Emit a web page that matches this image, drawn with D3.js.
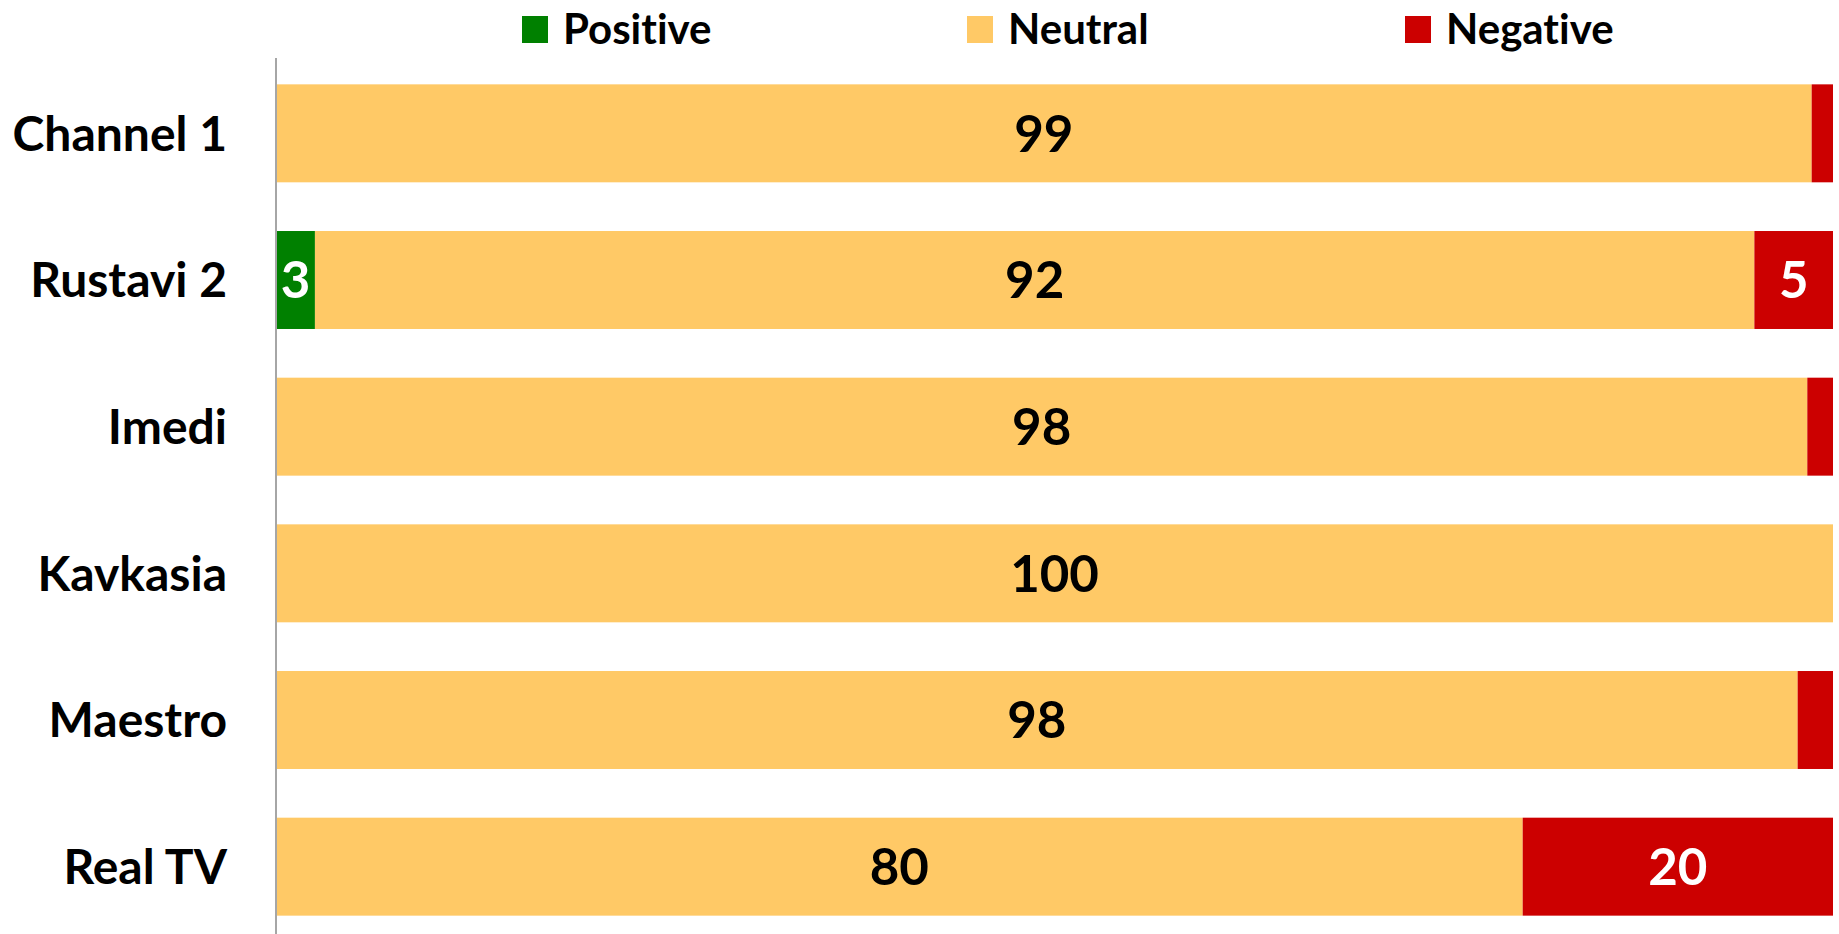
<!DOCTYPE html>
<html>
<head>
<meta charset="utf-8">
<script src="https://d3js.org/d3.v7.min.js"></script>
<style>
  body { margin: 0; background: #fff; }
  svg { display: block; }
  text { font-family: Lato, "Open Sans", sans-serif; font-weight: bold; font-variant-ligatures: none; }
</style>
</head>
<body>
<svg id="chart" width="1839" height="934"></svg>
<script>
// stacked bar: tone of coverage per channel (percent)
var channels = ["Channel 1", "Rustavi 2", "Imedi", "Kavkasia", "Maestro", "Real TV"];
var positive = [0, 2.5, 0, 0, 0, 0];
var neutral  = [98.63, 92.45, 98.35, 100, 97.73, 80.07];
var negative = [1.37, 5.05, 1.65, 0, 2.27, 19.93];

var seriesNames = ["Positive", "Neutral", "Negative"];
var colors = ["#008000", "#FFC966", "#CC0000"];
var labelColors = ["#fff", "#000", "#fff"];

var rows = channels.map(function(name, i) {
  return { name: name, Positive: positive[i], Neutral: neutral[i], Negative: negative[i] };
});

var svg = d3.select('#chart');

var x = d3.scaleLinear().domain([0, 100]).range([276, 1833]);
var y = d3.scaleBand().domain(channels).range([60, 940])
  .paddingInner(0.332).paddingOuter(0.166);

var stack = d3.stack().keys(seriesNames)(rows);

var layers = svg.selectAll("g.layer")
  .data(stack)
  .enter().append("g")
    .attr("class", "layer")
    .attr("fill", function(d, i) { return colors[i]; });

layers.selectAll("rect")
  .data(function(d) { return d; })
  .enter().append("rect")
    .attr("x", function(d) { return x(d[0]); })
    .attr("y", function(d) { return y(d.data.name); })
    .attr("width", function(d) { return x(d[1]) - x(d[0]); })
    .attr("height", y.bandwidth());

// value labels, only on segments wide enough
layers.selectAll("text")
  .data(function(d) { return d.filter(function(p) { return p[1] - p[0] >= 2.5; }); })
  .enter().append("text")
    .attr("x", function(d) { return (x(d[0]) + x(d[1])) / 2; })
    .attr("y", function(d) { return y(d.data.name) + y.bandwidth() / 2; })
    .attr("dy", "0.36em")
    .attr("text-anchor", "middle")
    .attr("font-size", 51)
    .attr("fill", function() { return labelColors[seriesNames.indexOf(d3.select(this.parentNode).datum().key)]; })
    .text(function(d) { return d3.format(".0f")(d[1] - d[0]); });

// category axis
var yAxis = svg.append("g")
  .attr("transform", "translate(276,0)")
  .call(d3.axisLeft(y).tickSize(0).tickPadding(49));
yAxis.select(".domain").remove();
yAxis.selectAll("text")
  .attr("font-size", 48)
  .attr("fill", "#000")
  .attr("dy", "0.36em");

svg.append("line")
  .attr("x1", 276).attr("x2", 276)
  .attr("y1", 58).attr("y2", 934)
  .attr("stroke", "#a6a6a6")
  .attr("stroke-width", 2);

// legend
var legendX = [522, 967, 1405];
var legend = svg.selectAll("g.legend")
  .data(seriesNames)
  .enter().append("g")
    .attr("class", "legend")
    .attr("transform", function(d, i) { return "translate(" + legendX[i] + ",16)"; });

legend.append("rect")
  .attr("width", 26)
  .attr("height", 27)
  .attr("fill", function(d, i) { return colors[i]; });

legend.append("text")
  .attr("x", 41)
  .attr("y", 28)
  .attr("font-size", 42)
  .attr("fill", "#000")
  .text(function(d) { return d; });
</script>
</body>
</html>
